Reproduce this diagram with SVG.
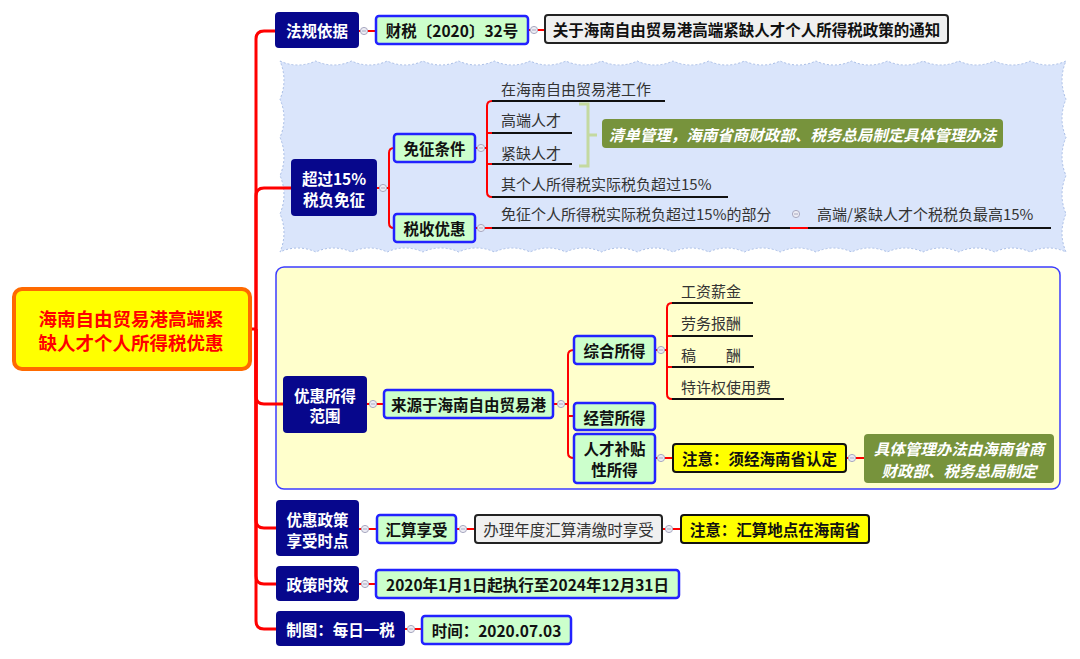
<svg xmlns="http://www.w3.org/2000/svg" xmlns:xlink="http://www.w3.org/1999/xlink" width="1080" height="659" viewBox="0 0 1080 659">
<defs>
<style>
text{font-family:"Noto Sans CJK SC","Microsoft YaHei",sans-serif;dominant-baseline:central}
.nv{fill:#07078C}
.nvt{fill:#fff;font-size:15.5px;font-weight:bold;text-anchor:middle}
.gr{fill:#CCFFCC;stroke:#2222FF;stroke-width:2.5}
.yl{fill:#FFFF00;stroke:#111;stroke-width:2}
.gy{fill:#F0F0F0;stroke:#222;stroke-width:2}
.ol{fill:#77933C}
.bt{fill:#111;font-size:15.5px;font-weight:bold;text-anchor:middle}
.olt{fill:#fff;font-size:15.5px;font-weight:bold;font-style:italic;text-anchor:middle}
.lf{fill:#333;font-size:15px}
.ul{stroke:#111;stroke-width:2;fill:none}
.br{stroke:#FF0000;stroke-width:2;fill:none}
.sp{stroke:#FF0000;stroke-width:3;fill:none}
.dc{fill:#ECECF4;stroke:#A8A8C0;stroke-width:1}
.dm{stroke:#A8A8C0;stroke-width:1}
</style>
<g id="dot"><circle class="dc" r="3.6"/><line class="dm" x1="-2" y1="0" x2="2" y2="0"/></g>
</defs>
<rect width="1080" height="659" fill="#fff"/>

<g id="cloud">
<path fill="#DAE5FB" stroke="#A8BDE6" stroke-width="1" stroke-dasharray="2,2" d="M280,61 a42 42 0 0 0 35.727 0 a42 42 0 0 0 35.727 0 a42 42 0 0 0 35.727 0 a42 42 0 0 0 35.727 0 a42 42 0 0 0 35.727 0 a42 42 0 0 0 35.727 0 a42 42 0 0 0 35.727 0 a42 42 0 0 0 35.727 0 a42 42 0 0 0 35.727 0 a42 42 0 0 0 35.727 0 a42 42 0 0 0 35.727 0 a42 42 0 0 0 35.727 0 a42 42 0 0 0 35.727 0 a42 42 0 0 0 35.727 0 a42 42 0 0 0 35.727 0 a42 42 0 0 0 35.727 0 a42 42 0 0 0 35.727 0 a42 42 0 0 0 35.727 0 a42 42 0 0 0 35.727 0 a42 42 0 0 0 35.727 0 a42 42 0 0 0 35.727 0 a42 42 0 0 0 35.727 0 a48 48 0 0 0 0 38.2 a48 48 0 0 0 0 38.2 a48 48 0 0 0 0 38.2 a48 48 0 0 0 0 38.2 a48 48 0 0 0 0 38.2 a42 42 0 0 0 -35.727 0 a42 42 0 0 0 -35.727 0 a42 42 0 0 0 -35.727 0 a42 42 0 0 0 -35.727 0 a42 42 0 0 0 -35.727 0 a42 42 0 0 0 -35.727 0 a42 42 0 0 0 -35.727 0 a42 42 0 0 0 -35.727 0 a42 42 0 0 0 -35.727 0 a42 42 0 0 0 -35.727 0 a42 42 0 0 0 -35.727 0 a42 42 0 0 0 -35.727 0 a42 42 0 0 0 -35.727 0 a42 42 0 0 0 -35.727 0 a42 42 0 0 0 -35.727 0 a42 42 0 0 0 -35.727 0 a42 42 0 0 0 -35.727 0 a42 42 0 0 0 -35.727 0 a42 42 0 0 0 -35.727 0 a42 42 0 0 0 -35.727 0 a42 42 0 0 0 -35.727 0 a42 42 0 0 0 -35.727 0 a48 48 0 0 0 0 -38.2 a48 48 0 0 0 0 -38.2 a48 48 0 0 0 0 -38.2 a48 48 0 0 0 0 -38.2 a48 48 0 0 0 0 -38.2 Z"/>
</g>
<g id="boundary">
<rect x="276" y="267" width="784" height="222" rx="8" fill="#FFFFCC" stroke="#3C3CFF" stroke-width="1.5"/>
</g>

<g id="connectors">
<path class="sp" d="M250,329 H256"/>
<path class="sp" d="M256,329 V39 Q256,31 264,31 H275"/>
<path class="sp" d="M256,329 V196 Q256,188 264,188 H291"/>
<path class="sp" d="M256,329 V396 Q256,404 264,404 H283"/>
<path class="sp" d="M256,329 V520 Q256,528 264,528 H276"/>
<path class="sp" d="M256,329 V576 Q256,584 264,584 H276"/>
<path class="sp" d="M256,329 V621 Q256,629 264,629 H276"/>
<path class="br" d="M359,31 H376"/>
<path class="br" d="M528,30 H545"/>
<path class="br" d="M377,188 H389 V153 Q389,148 394,148"/>
<path class="br" d="M389,188 V223 Q389,228 394,228"/>
<path class="br" d="M475,148 H487 V106 Q487,101 492,101"/>
<path class="br" d="M487,133 H492 M487,164 H492"/>
<path class="br" d="M487,148 V192 Q487,197 492,197"/>
<path class="br" d="M475,228 H492"/>
<path class="br" d="M790,228 H808"/>
<path class="br" d="M367,404 H384"/>
<path class="br" d="M553,404 H568 V355 Q568,350 574,350"/>
<path class="br" d="M568,404 V453 Q568,458 574,458"/>
<path class="br" d="M568,416 H574"/>
<path class="br" d="M655,350 H667 V308 Q667,303 672,303"/>
<path class="br" d="M667,336 H672 M667,367 H672"/>
<path class="br" d="M667,350 V394 Q667,399 672,399"/>
<path class="br" d="M655,458 H673"/>
<path class="br" d="M846,458 H864"/>
<path class="br" d="M359,529 H377"/>
<path class="br" d="M456,529 H475"/>
<path class="br" d="M662,529 H681"/>
<path class="br" d="M359,584 H376"/>
<path class="br" d="M405,629 H422"/>
<path fill="none" stroke="#C4D9A0" stroke-width="3" d="M579,104 H588 V166 H579 M588,135 H597"/>
<use xlink:href="#dot" x="364" y="31"/>
<use xlink:href="#dot" x="534" y="30"/>
<use xlink:href="#dot" x="383" y="188"/>
<use xlink:href="#dot" x="481" y="148"/>
<use xlink:href="#dot" x="481" y="228"/>
<use xlink:href="#dot" x="796" y="214"/>
<use xlink:href="#dot" x="373" y="404"/>
<use xlink:href="#dot" x="561" y="404"/>
<use xlink:href="#dot" x="661" y="350"/>
<use xlink:href="#dot" x="661" y="458"/>
<use xlink:href="#dot" x="852" y="458"/>
<use xlink:href="#dot" x="365" y="529"/>
<use xlink:href="#dot" x="463" y="529"/>
<use xlink:href="#dot" x="669" y="529"/>
<use xlink:href="#dot" x="365" y="584"/>
<use xlink:href="#dot" x="411" y="629"/>
</g>

<g id="root">
<rect x="14" y="289" width="236" height="80" rx="8" fill="#FFFF00" stroke="#FF6A00" stroke-width="4"/>
<text x="131" y="318" fill="#FF0000" font-size="18.5" font-weight="bold" text-anchor="middle">海南自由贸易港高端紧</text>
<text x="131" y="342" fill="#FF0000" font-size="18.5" font-weight="bold" text-anchor="middle">缺人才个人所得税优惠</text>
</g>

<g id="n-fagui">
<rect class="nv" x="275" y="12" width="84" height="36" rx="4"/>
<text class="nvt" x="317" y="30">法规依据</text>
</g>
<g id="n-caishui">
<rect class="gr" x="376" y="16" width="152" height="28" rx="3"/>
<text class="bt" x="452" y="30">财税〔2020〕32号</text>
</g>
<g id="n-guanyu">
<rect class="gy" x="545" y="15" width="403" height="28" rx="3"/>
<text class="bt" x="746.5" y="29" font-size="16">关于海南自由贸易港高端紧缺人才个人所得税政策的通知</text>
</g>

<g id="n-chaoguo">
<rect class="nv" x="291" y="159" width="86" height="57" rx="4"/>
<text class="nvt" x="334" y="178">超过15%</text>
<text class="nvt" x="334" y="199">税负免征</text>
</g>
<g id="n-mianzheng">
<rect class="gr" x="394" y="134" width="81" height="28" rx="3"/>
<text class="bt" x="434.5" y="148">免征条件</text>
</g>
<g id="n-shuishou">
<rect class="gr" x="394" y="214" width="81" height="28" rx="3"/>
<text class="bt" x="434.5" y="228">税收优惠</text>
</g>
<g id="n-c1">
<line class="ul" x1="492" y1="101" x2="665" y2="101"/>
<text class="lf" x="501" y="88">在海南自由贸易港工作</text>
</g>
<g id="n-c2">
<line class="ul" x1="492" y1="133" x2="572" y2="133"/>
<text class="lf" x="501" y="119">高端人才</text>
</g>
<g id="n-c3">
<line class="ul" x1="492" y1="164" x2="572" y2="164"/>
<text class="lf" x="501" y="152">紧缺人才</text>
</g>
<g id="n-c4">
<line class="ul" x1="492" y1="197" x2="728" y2="197"/>
<text class="lf" x="501" y="183">其个人所得税实际税负超过15%</text>
</g>
<g id="n-qingdan">
<rect class="ol" x="602" y="119" width="401" height="29" rx="4"/>
<text class="olt" x="802.5" y="134">清单管理，海南省商财政部、税务总局制定具体管理办法</text>
</g>
<g id="n-mianzhengbufen">
<line class="ul" x1="492" y1="228" x2="790" y2="228"/>
<text class="lf" x="501" y="213">免征个人所得税实际税负超过15%的部分</text>
</g>
<g id="n-zuigao">
<line class="ul" x1="808" y1="228" x2="1051" y2="228"/>
<text class="lf" x="817" y="213">高端/紧缺人才个税税负最高15%</text>
</g>

<g id="n-fanwei">
<rect class="nv" x="283" y="376" width="84" height="57" rx="4"/>
<text class="nvt" x="325" y="395">优惠所得</text>
<text class="nvt" x="325" y="415">范围</text>
</g>
<g id="n-laiyuan">
<rect class="gr" x="384" y="390" width="169" height="28" rx="3"/>
<text class="bt" x="468.5" y="404">来源于海南自由贸易港</text>
</g>
<g id="n-zonghe">
<rect class="gr" x="574" y="336" width="81" height="28" rx="3"/>
<text class="bt" x="614.5" y="350">综合所得</text>
</g>
<g id="n-jingying">
<rect class="gr" x="574" y="403" width="81" height="27" rx="3"/>
<text class="bt" x="614.5" y="416.5">经营所得</text>
</g>
<g id="n-rencai">
<rect class="gr" x="574" y="434" width="81" height="49" rx="3"/>
<text class="bt" x="614.5" y="448">人才补贴</text>
<text class="bt" x="614.5" y="469">性所得</text>
</g>
<g id="n-gongzi">
<line class="ul" x1="672" y1="303" x2="753" y2="303"/>
<text class="lf" x="681" y="290">工资薪金</text>
</g>
<g id="n-laowu">
<line class="ul" x1="672" y1="336" x2="753" y2="336"/>
<text class="lf" x="681" y="322">劳务报酬</text>
</g>
<g id="n-gaochou">
<line class="ul" x1="672" y1="367" x2="754" y2="367"/>
<text class="lf" x="681" y="354">稿　　酬</text>
</g>
<g id="n-texu">
<line class="ul" x1="672" y1="399" x2="784" y2="399"/>
<text class="lf" x="681" y="386">特许权使用费</text>
</g>
<g id="n-rending">
<rect class="yl" x="673" y="444" width="173" height="28" rx="3"/>
<text class="bt" x="759.5" y="458">注意：须经海南省认定</text>
</g>
<g id="n-juti">
<rect class="ol" x="864" y="434" width="190" height="49" rx="4"/>
<text class="olt" x="959" y="448">具体管理办法由海南省商</text>
<text class="olt" x="959" y="470">财政部、税务总局制定</text>
</g>

<g id="n-shidian">
<rect class="nv" x="276" y="500" width="83" height="56" rx="4"/>
<text class="nvt" x="317.5" y="519">优惠政策</text>
<text class="nvt" x="317.5" y="540">享受时点</text>
</g>
<g id="n-huisuan">
<rect class="gr" x="377" y="515" width="79" height="28" rx="3"/>
<text class="bt" x="416.5" y="529">汇算享受</text>
</g>
<g id="n-banli">
<rect class="gy" x="475" y="515" width="187" height="28" rx="3"/>
<text x="568.5" y="529" fill="#333" font-size="15.5" text-anchor="middle">办理年度汇算清缴时享受</text>
</g>
<g id="n-didian">
<rect class="yl" x="681" y="515" width="188" height="28" rx="3"/>
<text class="bt" x="775" y="529">注意：汇算地点在海南省</text>
</g>

<g id="n-shixiao">
<rect class="nv" x="276" y="566" width="83" height="35" rx="4"/>
<text class="nvt" x="317.5" y="583.5">政策时效</text>
</g>
<g id="n-riqi">
<rect class="gr" x="376" y="570" width="303" height="28" rx="3"/>
<text class="bt" x="527.5" y="584">2020年1月1日起执行至2024年12月31日</text>
</g>

<g id="n-zhitu">
<rect class="nv" x="276" y="611" width="129" height="35" rx="4"/>
<text class="nvt" x="340.5" y="628.5">制图：每日一税</text>
</g>
<g id="n-shijian">
<rect class="gr" x="422" y="616" width="149" height="28" rx="3"/>
<text class="bt" x="496.5" y="630">时间：2020.07.03</text>
</g>
</svg>
